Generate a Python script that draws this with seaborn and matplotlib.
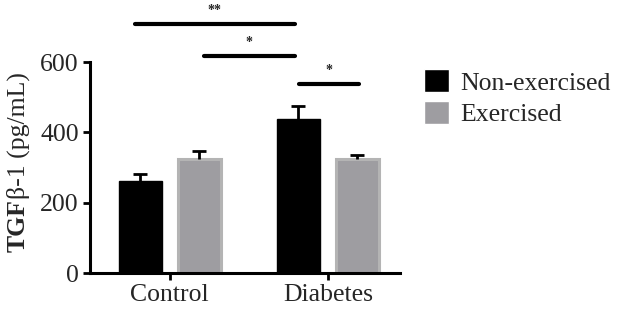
import pandas as pd
import matplotlib
matplotlib.use("Agg")
import matplotlib.pyplot as plt
import seaborn as sns

# data
groups = ["Control", "Diabetes"]
conditions = ["Non-exercised", "Exercised"]
means_nonex = [261, 438]
means_ex = [324, 324]
sem_nonex = [20, 37]
sem_ex = [23, 11]

# significance brackets: (x start, x end, y level, label)
sig_x0 = [-0.22, 0.215, 0.816]
sig_x1 = [0.79, 0.79, 1.196]
sig_y = [707, 616, 537]
sig_labels = ["**", "*", "*"]

df = pd.DataFrame({
    "group": groups * 2,
    "condition": [conditions[0]] * 2 + [conditions[1]] * 2,
    "value": means_nonex + means_ex,
    "sem": sem_nonex + sem_ex,
})

sns.set_style("ticks")
plt.rcParams["font.family"] = ["Liberation Serif", "DejaVu Serif"]

fig = plt.figure(figsize=(6.19, 3.15), dpi=100)
ax = fig.add_axes([0.145, 0.133, 0.501, 0.67])

palette = {"Non-exercised": "#000000", "Exercised": "#9e9da1"}
sns.barplot(data=df, x="group", y="value", hue="condition", palette=palette,
            width=0.747, gap=0.27, errorbar=None, ax=ax, saturation=1)

# style bars and add upward-only error bars
for cond, container in zip(conditions, ax.containers):
    sub = df[df["condition"] == cond]
    for bar, (_, row) in zip(container, sub.iterrows()):
        if cond == "Exercised":
            bar.set_edgecolor("#b4b4b4")
            bar.set_linewidth(2.2)
        else:
            bar.set_edgecolor("#000000")
            bar.set_linewidth(1)
        cx = bar.get_x() + bar.get_width() / 2
        eb = ax.errorbar(cx, row["value"], yerr=[[0], [row["sem"]]], fmt="none",
                         ecolor="black", elinewidth=2, capsize=5, capthick=2, zorder=3)
        eb[1][0].set_visible(False)  # no cap at the bar top

ax.set_ylim(0, 600)
ax.set_xlim(-0.506, 1.456)
ax.set_yticks([0, 200, 400, 600])
ax.set_xlabel("")
ax.set_ylabel("")
ax.tick_params(axis="both", labelsize=18.5, width=2, length=5, color="black", pad=3)
for s in ["left", "bottom"]:
    ax.spines[s].set_linewidth(2.2)
    ax.spines[s].set_color("black")
sns.despine(ax=ax)

for x0, x1, y, lab in zip(sig_x0, sig_x1, sig_y, sig_labels):
    ax.plot([x0, x1], [y, y], color="black", lw=3, solid_capstyle="round", clip_on=False)
    ax.text((x0 + x1) / 2, y + 20, lab, ha="center", va="bottom", fontsize=10,
            fontweight="bold", clip_on=False)

# y label: "TGF" bold, rest regular
t1 = fig.text(0.029, 0.2, "TGF", rotation=90, fontsize=18.5, fontweight="bold",
              ha="center", va="bottom")
fig.canvas.draw()
bb = t1.get_window_extent().transformed(fig.transFigure.inverted())
fig.text(0.029, bb.y1, "β-1 (pg/mL)", rotation=90, fontsize=18.5,
         ha="center", va="bottom")

handles, labels = ax.get_legend_handles_labels()
ax.legend(handles, labels, loc="upper left", bbox_to_anchor=(1.077, 0.965),
          frameon=False, fontsize=18.5, handlelength=1.0, handleheight=1.0,
          handletextpad=0.43, labelspacing=0.25, borderaxespad=0, borderpad=0)

fig.savefig("out.png", dpi=100)
